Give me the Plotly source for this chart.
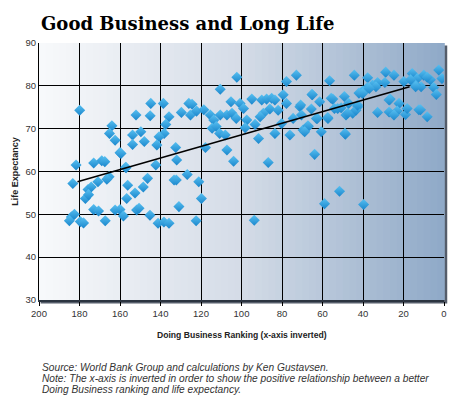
import plotly.graph_objects as go

# Doing Business ranking (x) vs life expectancy (y)
rank = [
    179.9, 181.7, 173.0, 169.0, 167.5, 160.0, 157.2, 183.3, 170.9, 165.4,
    166.5, 156.2, 152.6, 175.8, 174.2, 177.1, 175.5, 156.7, 173.0, 170.6,
    162.4, 160.0, 158.3, 151.8, 184.0, 185.0, 179.6, 178.0, 167.3, 182.5,
    164.0, 165.2, 162.4, 152.1, 144.8, 145.1, 138.6, 135.8, 137.4, 138.2,
    140.7, 153.8, 149.7, 148.0, 153.8, 141.8, 159.5, 157.0, 142.3, 146.4,
    148.5, 150.6, 145.2, 141.2, 138.3, 132.2, 132.5, 132.0, 126.8, 121.1,
    119.8, 130.9, 122.4, 135.8, 93.7, 129.7, 126.0, 124.4, 125.2, 122.2,
    118.6, 115.4, 113.7, 114.5, 112.5, 110.8, 108.0, 110.5, 107.2, 104.7,
    102.6, 105.2, 100.7, 99.0, 110.5, 102.3, 94.9, 97.4, 93.3, 98.2,
    90.0, 87.6, 85.1, 83.5, 89.2, 90.8, 86.0, 81.9, 79.4, 77.8,
    80.2, 83.5, 91.6, 76.1, 74.5, 71.2, 70.4, 65.0, 61.4, 65.5,
    63.0, 67.0, 69.6, 60.6, 57.3, 54.9, 52.5, 49.2, 47.1, 48.4,
    45.1, 42.6, 48.7, 63.9, 86.8, 117.8, 107.2, 103.9, 77.8, 72.9,
    56.5, 44.3, 37.7, 32.8, 28.8, 24.7, 29.2, 35.3, 37.8, 40.2,
    42.0, 19.8, 15.7, 13.2, 10.0, 11.3, 14.1, 6.7, 2.6, 1.0,
    5.1, 3.8, 16.5, 8.3, 65.2, 55.7, 54.1, 50.8, 47.6, 43.5,
    42.7, 26.6, 22.2, 32.8, 27.1, 23.1, 19.0, 24.7, 18.2, 11.6,
    8.3, 70.8, 62.6, 57.4, 67.2, 68.8, 48.9, 51.6, 59.0, 39.7,
    33.6, 36.9, 40.2, 27.1, 12.4, 14.0, 133.3,
]
life_exp = [
    74.3, 61.5, 62.0, 62.5, 62.3, 64.4, 61.0, 57.2, 57.6, 58.8,
    58.2, 56.8, 55.0, 55.8, 56.4, 53.7, 54.6, 53.7, 51.1, 50.8,
    51.0, 51.1, 49.6, 51.0, 49.4, 48.5, 48.3, 48.0, 48.5, 50.0,
    70.7, 68.9, 67.3, 73.2, 75.9, 73.0, 75.9, 72.8, 71.0, 68.9,
    68.1, 68.5, 69.3, 67.0, 66.3, 66.2, 64.2, 60.9, 61.5, 58.4,
    56.4, 51.4, 49.8, 47.9, 48.2, 58.0, 65.6, 62.7, 59.3, 57.6,
    53.7, 51.8, 48.5, 47.9, 48.6, 73.8, 75.9, 75.7, 73.2, 74.1,
    74.4, 73.2, 72.0, 70.1, 70.5, 68.9, 68.5, 73.2, 73.2, 73.6,
    72.4, 76.3, 75.9, 74.7, 79.2, 82.0, 76.9, 72.0, 71.0, 70.2,
    76.7, 76.9, 77.1, 76.7, 73.6, 72.8, 74.6, 74.3, 77.9, 75.9,
    71.2, 68.9, 67.7, 68.5, 72.4, 75.1, 73.2, 77.9, 76.3, 74.6,
    72.4, 70.5, 69.7, 69.3, 72.4, 76.9, 74.7, 77.5, 75.9, 73.2,
    73.6, 75.1, 68.7, 64.0, 62.1, 65.6, 65.0, 62.4, 81.0, 82.5,
    81.2, 82.5, 81.9, 80.8, 83.2, 82.5, 80.8, 80.2, 79.6, 78.8,
    78.3, 81.0, 82.9, 81.7, 82.5, 79.8, 80.2, 81.4, 83.7, 81.7,
    79.6, 78.0, 81.4, 82.0, 78.0, 77.1, 74.7, 74.9, 73.6, 74.3,
    75.5, 76.9, 75.9, 73.8, 73.9, 74.1, 73.3, 73.2, 74.7, 74.4,
    72.8, 75.5, 72.4, 72.6, 70.7, 69.3, 68.9, 55.4, 52.5, 52.3,
    79.8, 79.4, 78.2, 76.7, 74.4, 79.8, 58.0,
]

# fitted trend line end points
trend_x = [181.0, 17.0]
trend_y = [57.6, 79.8]

x_ticks = [200, 180, 160, 140, 120, 100, 80, 60, 40, 20, 0]
y_ticks = [30, 40, 50, 60, 70, 80, 90]

note_lines = [
    'Source: World Bank Group and calculations by Ken Gustavsen.',
    'Note: The x-axis is inverted in order to show the positive relationship between a better',
    'Doing Business ranking and life expectancy.',
]

fig = go.Figure()

fig.add_trace(go.Scatter(
    x=rank, y=life_exp, mode='markers',
    marker=dict(symbol='diamond', size=8.5, color='#58c0f1',
                gradient=dict(type='vertical', color='#1a86cc'),
                line=dict(width=0)),
    hoverinfo='x+y', showlegend=False))

fig.add_trace(go.Scatter(
    x=trend_x, y=trend_y, mode='lines',
    line=dict(color='black', width=1.5),
    hoverinfo='skip', showlegend=False))

# background: drop shadow + left-to-right gradient made of thin strips
shapes = [dict(type='rect', xref='paper', yref='paper', x0=0.004, x1=1.008,
               y0=-0.014, y1=0.99, fillcolor='rgba(55,65,80,0.85)',
               line=dict(width=0), layer='below')]
stops = [(0.0, (248, 249, 251)), (0.5, (212, 220, 231)), (1.0, (143, 169, 199))]
n = 60
for i in range(n):
    t = (i + 0.5) / n
    for (t0, c0), (t1, c1) in zip(stops[:-1], stops[1:]):
        if t0 <= t <= t1:
            f = (t - t0) / (t1 - t0)
            c = tuple(round(a + (b - a) * f) for a, b in zip(c0, c1))
    shapes.append(dict(type='rect', xref='paper', yref='paper',
                       x0=i / n, x1=(i + 1) / n + 0.002, y0=0, y1=1,
                       fillcolor='rgb(%d,%d,%d)' % c,
                       line=dict(width=0), layer='below'))

annotations = [
    dict(text='<b>Good Business and Long Life</b>', xref='paper', yref='paper',
         x=0.0, y=1.074, xanchor='left', yanchor='middle', showarrow=False,
         font=dict(family='DejaVu Serif', size=18, color='black')),
    dict(text='<b>Doing Business Ranking (x-axis inverted)</b>', xref='paper',
         yref='paper', x=0.5, y=-0.136, xanchor='center', yanchor='middle',
         showarrow=False, font=dict(family='Liberation Sans', size=8.6, color='#222222')),
    dict(text='<b>Life Expectancy</b>', xref='paper', yref='paper',
         x=-0.061, y=0.5, xanchor='center', yanchor='middle', textangle=-90,
         showarrow=False, font=dict(family='Liberation Sans', size=9, color='#222222')),
]
for k, line in enumerate(note_lines):
    annotations.append(dict(
        text='<i>%s</i>' % line, xref='paper', yref='paper',
        x=0.002, y=-0.261 - 0.0445 * k, xanchor='left', yanchor='middle',
        showarrow=False, font=dict(family='Liberation Sans', size=10.2, color='#333333')))

fig.update_layout(
    width=450, height=402,
    margin=dict(l=39, r=3, t=43, b=102),
    paper_bgcolor='white', plot_bgcolor='white',
    font=dict(family='Liberation Sans', size=9, color='#333333'),
    shapes=shapes,
    annotations=annotations,
    xaxis=dict(range=[200, 0], tickvals=x_ticks, showgrid=True,
               gridcolor='black', gridwidth=1, zeroline=False,
               showline=True, linecolor='#2b3440', linewidth=2,
               ticks='outside', ticklen=4, tickcolor='black',
               tickfont=dict(size=9.5, color='#333333')),
    yaxis=dict(range=[30, 90], tickvals=y_ticks, showgrid=True,
               gridcolor='black', gridwidth=1, zeroline=False,
               showline=True, linecolor='black', linewidth=1,
               ticks='', tickfont=dict(size=9.5, color='#333333')),
)

# the page body has a default 8px margin; remove it so the figure sits at 0,0
fig.write_html("out.html", config={'displayModeBar': False},
               post_script="document.body.style.margin = '0';")
